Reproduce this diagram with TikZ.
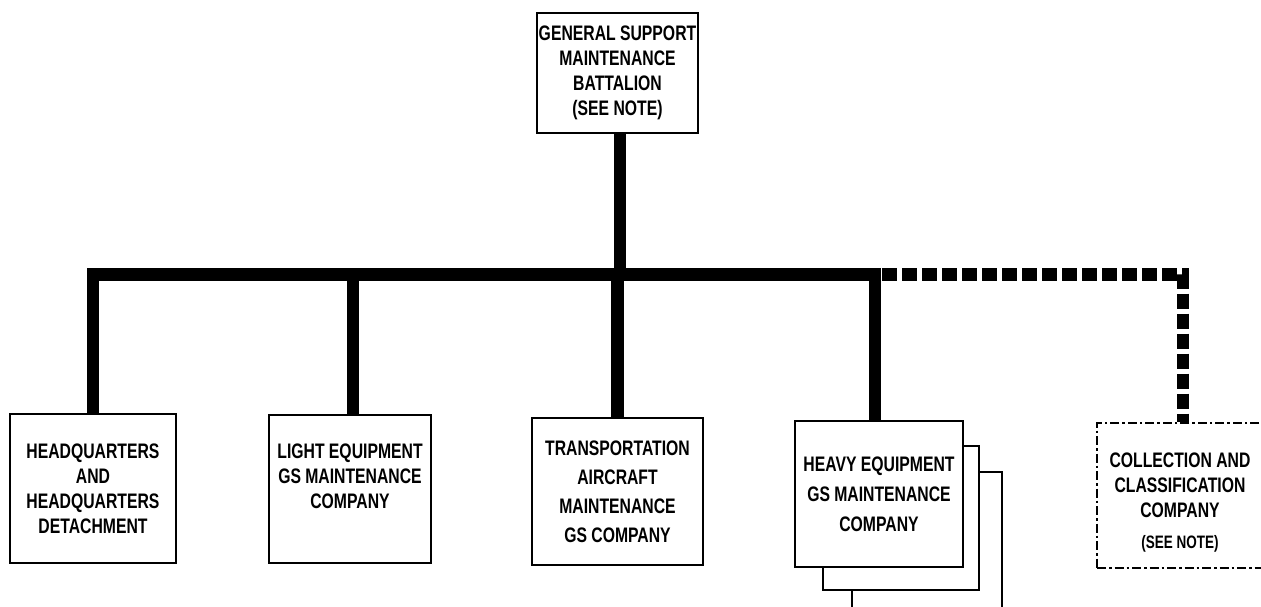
\documentclass[tikz,border=0pt]{standalone}
\usepackage{fontspec}
\newfontfamily\orgfont[FakeStretch=0.75]{Liberation Sans}
\begin{document}
\begin{tikzpicture}[x=1pt,y=-1pt,
  box/.style={draw,line width=2.8pt,fill=white,inner sep=0pt,align=center,
    font=\orgfont\bfseries\fontsize{21}{25}\selectfont},
  frame/.style={draw,line width=2.8pt,fill=white,inner sep=0pt},
  ddbox/.style={draw,line width=2.4pt,fill=white,inner sep=0pt,
    dash pattern=on 9pt off 3pt on 2.5pt off 3pt},
  txt/.style={inner sep=0pt,align=center,font=\orgfont\bfseries\fontsize{21}{25}\selectfont},
  bar/.style={line width=12.5pt,line join=miter},
  dbar/.style={line width=12.5pt,dash pattern=on 15pt off 5pt}]
\useasboundingbox (0,0) rectangle (1261,606);

% boxes
\node[box,minimum width=161pt,minimum height=120pt] (top) at (617.5,73)
  {GENERAL SUPPORT\\MAINTENANCE\\BATTALION\\(SEE NOTE)};
\node[box,minimum width=166pt,minimum height=149pt] (hq) at (93,488.5)
  {HEADQUARTERS\\AND\\HEADQUARTERS\\DETACHMENT};
\node[box,minimum width=162pt,minimum height=148pt] (light) at (350,489)
  {LIGHT EQUIPMENT\\GS MAINTENANCE\\COMPANY\\\mbox{}};
\node[box,minimum width=171pt,minimum height=147pt,font=\orgfont\bfseries\fontsize{21}{29}\selectfont] (trans) at (617.5,491.5)
  {TRANSPORTATION\\AIRCRAFT\\MAINTENANCE\\GS COMPANY};
\node[frame,minimum width=150pt,minimum height=168pt] (heavyc) at (927,556) {};
\node[frame,minimum width=156pt,minimum height=144pt] (heavyb) at (901,518) {};
\node[box,minimum width=168pt,minimum height=146pt,font=\orgfont\bfseries\fontsize{21}{30}\selectfont] (heavy) at (879,494)
  {HEAVY EQUIPMENT\\GS MAINTENANCE\\COMPANY};
\node[ddbox,minimum width=166pt,minimum height=145pt] (coll) at (1180,495.5) {};
\node[txt] (colltext) at (1180,503)
  {COLLECTION AND\\CLASSIFICATION\\COMPANY\\[6pt]{\fontsize{18}{20}\selectfont (SEE NOTE)}};

% connectors
\coordinate (hj) at (875,274.5);
\coordinate (dj) at (1183,274.5);
\coordinate (hl) at (93,274.5);
\draw[bar] (hq.north) -- (hl) -- (hj) -- (hj |- heavy.north);
\draw[bar] ([xshift=3pt]light.north) -- ([xshift=3pt]light.north |- hl);
\draw[bar] (trans.north) -- (trans.north |- hl);
\draw[bar] ([xshift=2.5pt]top.south) -- ([xshift=2.5pt]top.south |- hl);
\draw[dbar] ([xshift=7pt]hj) -- (dj) -- (dj |- coll.north);
\end{tikzpicture}
\end{document}
